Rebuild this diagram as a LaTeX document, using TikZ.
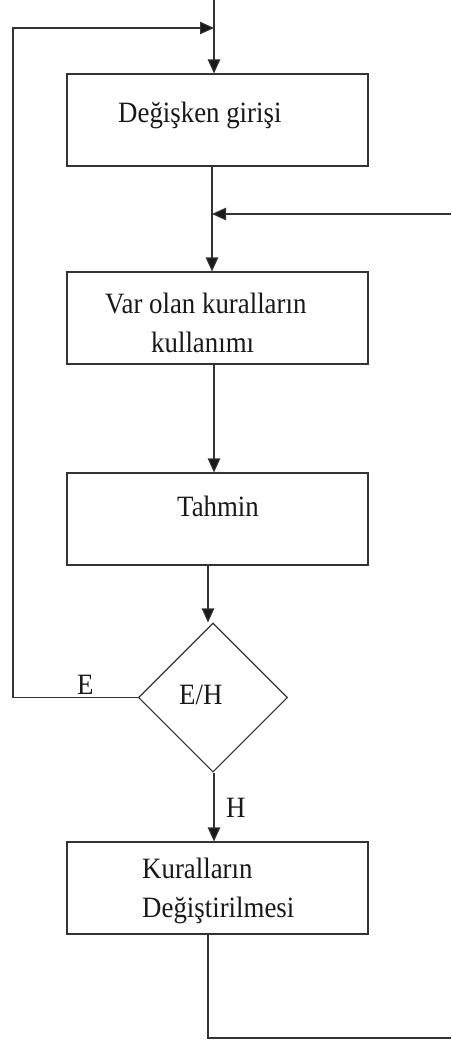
\documentclass[tikz,border=0pt]{standalone}
\usepackage{fontspec}
\setmainfont{Liberation Serif}[FakeStretch=0.91]
\usetikzlibrary{arrows.meta,shapes.geometric}

\begin{document}
\begin{tikzpicture}[x=1pt,y=-1pt,
  line/.style={draw=black!80,line width=1.1pt},
  flow/.style={line,-{Triangle[length=14pt,width=12.5pt,fill=black!90]}},
  stepbox/.style={line,rectangle,minimum width=301pt,minimum height=92pt,inner sep=0pt},
  decide/.style={line,diamond,minimum width=149pt,minimum height=149pt,inner sep=0pt},
  txt/.style={anchor=base west,inner sep=0pt,text=black!90,font=\fontsize{29.5}{38}\selectfont}]

\useasboundingbox (0,0) rectangle (451,1043);

% process boxes and decision
\node[stepbox] (giris)  at (217.5,120) {};
\node[stepbox] (kural)  at (217.5,318) {};
\node[stepbox] (tahmin) at (217.5,519) {};
\node[decide]  (karar)  at (213,697.5) {};
\node[stepbox] (degis)  at (217.5,888) {};

% labels
\node[txt] (tgiris)  at (118,123) {Değişken girişi};
\node[txt] (tkural1) at (105,313) {Var olan kuralların};
\node[txt] (tkural2) at (151,352) {kullanımı};
\node[txt] (ttahmin) at (177,516) {Tahmin};
\node[txt] (tkarar)  at (179,704) {E/H};
\node[txt] (tE)      at (77,694)  {E};
\node[txt] (tH)      at (226,817) {H};
\node[txt] (tdegis1) at (142,878) {Kuralların};
\node[txt] (tdegis2) at (142,917) {Değiştirilmesi};

% free ends
\coordinate (start)  at (214,0);
\coordinate (join)   at (214,28);
\coordinate (leftc)  at (13,697.5);
\coordinate (rightin) at (451,214);
\coordinate (inpt)   at (212,214);
\coordinate (bottom) at (208,1038);
\coordinate (outr)   at (451,1038);

% connectors
\draw[flow] (start) -- ([xshift=-3.5pt]giris.north);
\draw[flow] (karar.west) -- (leftc) -- (leftc |- join) -- (join);
\draw[flow] ([xshift=-5.5pt]giris.south) -- ([xshift=-5.5pt]kural.north);
\draw[flow] (rightin) -- (inpt);
\draw[flow] ([xshift=-3.5pt]kural.south) -- ([xshift=-3.5pt]tahmin.north);
\draw[flow] ([xshift=-9.5pt]tahmin.south) -- ([xshift=-5pt]karar.north);
\draw[flow] ([xshift=1pt]karar.south) -- ([xshift=-3.5pt]degis.north);
\draw[line] ([xshift=-9.5pt]degis.south) -- (bottom) -- (outr);
\end{tikzpicture}
\end{document}
